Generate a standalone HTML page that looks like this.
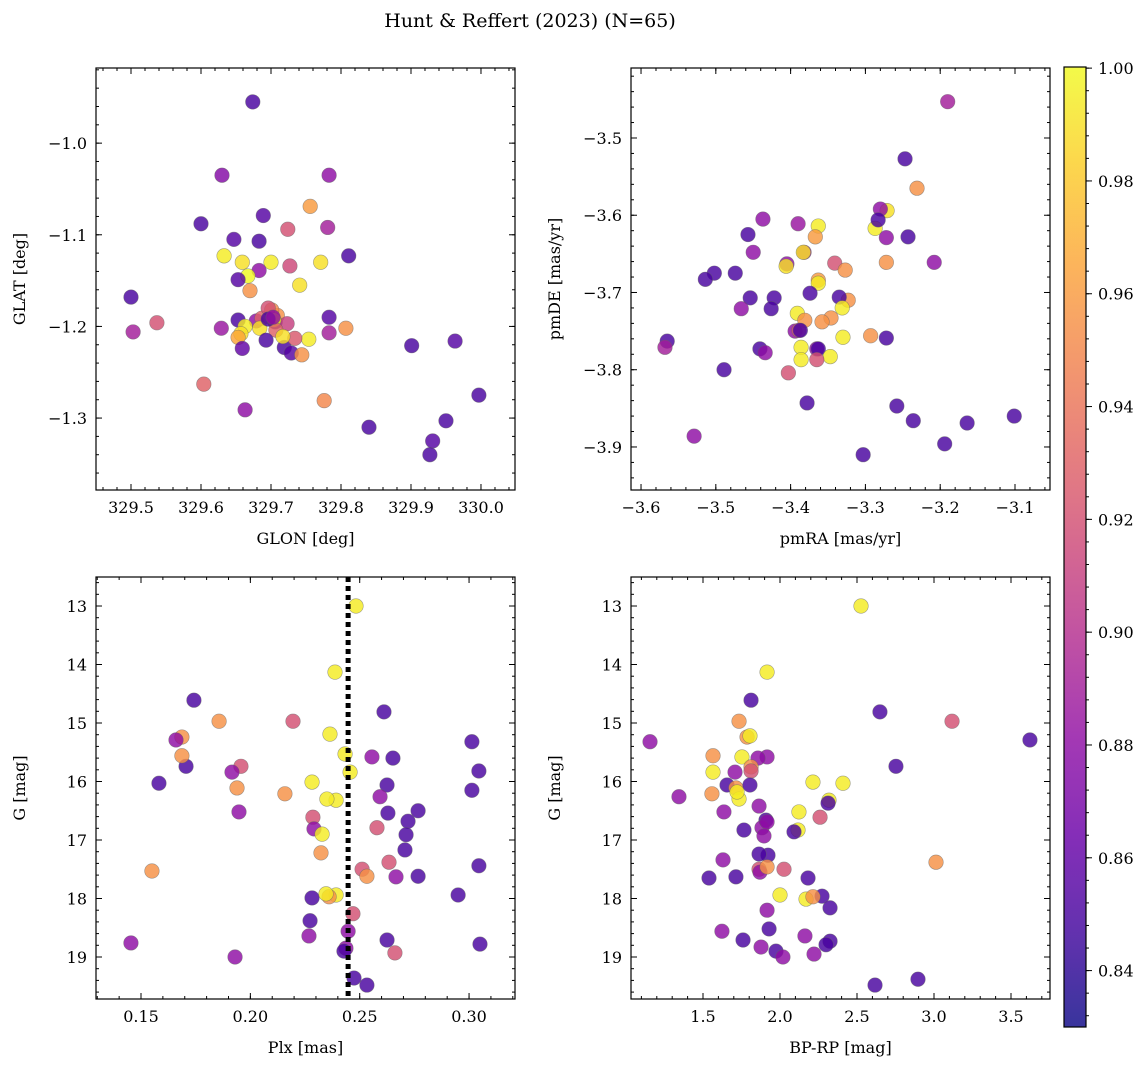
<!DOCTYPE html>
<html><head><meta charset="utf-8"><style>
html,body{margin:0;padding:0;background:#fff;}
svg{display:block;font-family:"DejaVu Serif","Liberation Serif",serif;}
</style></head><body>
<svg id="fig" width="1148" height="1067" viewBox="0 0 1148 1067">
<text x="530" y="27" font-size="19" text-anchor="middle">Hunt &amp; Reffert (2023) (N=65)</text>
</svg>
<script>
// ---- Panel 1 data: GLON / GLAT ----
const glon=[329.674,329.630,329.783,329.600,329.689,329.756,329.781,329.647,329.683,329.724,329.811,329.633,329.659,329.700,329.683,329.667,329.771,329.727,329.741,329.653,329.670,329.500,329.537,329.503,329.629,329.653,329.679,329.687,329.706,329.709,329.701,329.723,329.783,329.696,329.807,329.663,329.684,329.704,329.707,329.657,329.653,329.693,329.754,329.783,329.659,329.719,329.729,329.744,329.734,329.604,329.776,329.663,329.840,329.901,329.963,329.997,329.950,329.931,329.927,329.696,329.717,329.703];
const glat=[-0.955,-1.035,-1.035,-1.088,-1.079,-1.069,-1.092,-1.105,-1.107,-1.094,-1.123,-1.123,-1.130,-1.130,-1.139,-1.145,-1.130,-1.134,-1.155,-1.149,-1.161,-1.168,-1.196,-1.206,-1.202,-1.193,-1.194,-1.191,-1.195,-1.188,-1.182,-1.197,-1.190,-1.180,-1.202,-1.200,-1.202,-1.193,-1.204,-1.208,-1.212,-1.215,-1.214,-1.207,-1.224,-1.223,-1.229,-1.231,-1.213,-1.263,-1.281,-1.291,-1.310,-1.221,-1.216,-1.275,-1.303,-1.325,-1.340,-1.192,-1.211,-1.190];
const prob1=[0.85,0.875,0.88,0.85,0.855,0.96,0.89,0.855,0.85,0.92,0.85,0.995,0.99,0.995,0.88,1.0,0.99,0.915,0.99,0.855,0.955,0.85,0.92,0.89,0.885,0.85,0.88,0.93,0.85,0.955,0.95,0.91,0.855,0.92,0.955,0.995,0.99,0.995,0.93,0.99,0.965,0.85,0.995,0.89,0.86,0.85,0.855,0.955,0.925,0.93,0.95,0.88,0.85,0.85,0.855,0.85,0.85,0.855,0.85,0.85,0.99,0.88];
// ---- Panel 2 data: pmRA / pmDE ----
const pmra=[-3.190,-3.247,-3.231,-3.271,-3.280,-3.287,-3.283,-3.243,-3.437,-3.390,-3.363,-3.272,-3.457,-3.367,-3.382,-3.383,-3.450,-3.474,-3.502,-3.514,-3.405,-3.341,-3.272,-3.327,-3.363,-3.363,-3.208,-3.406,-3.323,-3.374,-3.335,-3.454,-3.422,-3.466,-3.426,-3.391,-3.346,-3.358,-3.381,-3.394,-3.389,-3.387,-3.331,-3.293,-3.272,-3.565,-3.568,-3.330,-3.386,-3.365,-3.363,-3.441,-3.434,-3.386,-3.347,-3.365,-3.489,-3.403,-3.378,-3.258,-3.236,-3.164,-3.101,-3.194,-3.303,-3.529];
const pmde=[-3.453,-3.527,-3.565,-3.594,-3.592,-3.617,-3.606,-3.628,-3.605,-3.611,-3.614,-3.629,-3.625,-3.628,-3.648,-3.648,-3.648,-3.675,-3.675,-3.683,-3.663,-3.662,-3.661,-3.671,-3.684,-3.688,-3.661,-3.666,-3.710,-3.701,-3.706,-3.707,-3.707,-3.721,-3.721,-3.727,-3.733,-3.738,-3.736,-3.750,-3.749,-3.749,-3.720,-3.756,-3.759,-3.763,-3.771,-3.758,-3.771,-3.773,-3.773,-3.773,-3.778,-3.787,-3.783,-3.787,-3.800,-3.804,-3.843,-3.847,-3.866,-3.869,-3.860,-3.896,-3.910,-3.886];
const prob2=[0.89,0.85,0.955,0.99,0.88,0.995,0.85,0.85,0.88,0.885,0.995,0.88,0.85,0.96,0.89,0.99,0.88,0.85,0.85,0.85,0.88,0.92,0.955,0.955,0.96,0.995,0.88,0.99,0.955,0.85,0.85,0.85,0.85,0.88,0.85,0.995,0.955,0.955,0.955,0.88,0.92,0.85,0.995,0.955,0.85,0.85,0.89,0.995,0.995,0.88,0.85,0.85,0.88,0.995,0.995,0.92,0.85,0.92,0.85,0.85,0.85,0.85,0.85,0.85,0.85,0.88];
// ---- Panel 3 data: Plx / G ----
const plx=[0.2483,0.2387,0.1742,0.1857,0.2195,0.2611,0.1687,0.1660,0.2364,0.1706,0.1687,0.2433,0.2556,0.2652,0.3013,0.2456,0.1957,0.1916,0.1582,0.2282,0.1939,0.2625,0.3045,0.2593,0.2392,0.2350,0.2158,0.2629,0.2767,0.3013,0.1948,0.2286,0.2721,0.2579,0.2291,0.2328,0.2712,0.2323,0.2634,0.2707,0.2511,0.1550,0.2666,0.2767,0.2533,0.3045,0.2950,0.2282,0.2392,0.2360,0.2346,0.2469,0.2273,0.2447,0.2625,0.2268,0.1454,0.2437,0.3050,0.1930,0.2661,0.2474,0.2533,0.2428];
const gmag3=[13.00,14.13,14.61,14.97,14.97,14.81,15.24,15.29,15.19,15.74,15.56,15.53,15.58,15.60,15.32,15.84,15.74,15.84,16.03,16.01,16.11,16.06,15.82,16.26,16.32,16.30,16.21,16.54,16.50,16.15,16.52,16.61,16.68,16.79,16.81,16.90,16.91,17.22,17.38,17.17,17.50,17.53,17.63,17.62,17.62,17.44,17.94,17.99,17.94,17.97,17.92,18.26,18.38,18.56,18.71,18.64,18.76,18.85,18.78,19.00,18.93,19.36,19.48,18.90];
const prob3=[0.995,0.995,0.85,0.955,0.92,0.85,0.955,0.88,0.995,0.85,0.955,0.995,0.88,0.85,0.85,0.995,0.92,0.88,0.85,0.995,0.955,0.85,0.85,0.88,0.995,0.995,0.955,0.85,0.85,0.85,0.88,0.92,0.85,0.92,0.88,0.995,0.85,0.955,0.92,0.85,0.92,0.955,0.88,0.85,0.955,0.85,0.85,0.85,0.995,0.955,0.995,0.92,0.85,0.88,0.85,0.88,0.88,0.88,0.85,0.88,0.92,0.85,0.85,0.85];
// ---- Panel 4 data: BP-RP / G ----
const bprp=[2.526,1.916,1.812,2.649,1.734,3.117,1.786,1.805,3.623,1.156,1.565,1.753,1.916,1.857,2.753,1.565,1.708,1.812,1.812,1.344,1.656,1.714,1.734,1.558,1.805,1.721,2.318,2.312,2.214,1.864,2.123,2.409,1.909,1.636,2.260,1.883,2.117,1.766,2.091,1.916,1.896,1.922,1.864,1.630,1.864,1.714,1.870,1.916,2.182,1.539,2.026,3.013,2.273,2.000,2.169,2.214,1.916,2.325,1.929,1.623,1.760,2.325,2.299,1.877,2.162,2.221,1.974,2.019,2.896,2.617];
const gmag4=[13.00,14.13,14.61,14.81,14.97,14.97,15.24,15.22,15.29,15.32,15.56,15.58,15.58,15.60,15.74,15.84,15.84,15.75,15.82,16.26,16.06,16.11,16.30,16.21,16.06,16.18,16.32,16.37,16.01,16.42,16.52,16.03,16.66,16.52,16.61,16.79,16.83,16.83,16.86,16.69,16.93,17.26,17.24,17.34,17.50,17.63,17.55,17.46,17.65,17.65,17.50,17.38,17.96,17.94,18.01,17.97,18.20,18.16,18.52,18.56,18.71,18.73,18.79,18.83,18.64,18.95,18.90,19.00,19.38,19.48];
const prob4=[0.995,0.995,0.85,0.85,0.955,0.92,0.955,0.995,0.85,0.88,0.955,0.995,0.88,0.88,0.85,0.995,0.88,0.955,0.92,0.88,0.85,0.955,0.995,0.955,0.85,0.995,0.995,0.85,0.995,0.88,0.995,0.995,0.85,0.88,0.92,0.88,0.995,0.85,0.85,0.88,0.88,0.85,0.85,0.88,0.92,0.85,0.88,0.955,0.85,0.85,0.92,0.955,0.85,0.995,0.995,0.955,0.88,0.85,0.85,0.88,0.85,0.85,0.85,0.88,0.88,0.88,0.85,0.88,0.85,0.85];
// ---- Reference line & colorbar ----
const plxLine=[0.2447];
const cbTicks=[0.84,0.86,0.88,0.90,0.92,0.94,0.96,0.98,1.00];
const vmin=0.830, vmax=1.0002;

const NS="http://www.w3.org/2000/svg";
const fig=document.getElementById('fig');
function el(tag,attrs,parent){const e=document.createElementNS(NS,tag);for(const k in attrs)e.setAttribute(k,attrs[k]);(parent||fig).appendChild(e);return e;}
const stops=["#0d0887","#41049d","#6a00a8","#8f0da4","#b12a90","#cc4778","#e16462","#f2844b","#fca636","#fcce25","#f0f921"];
function hex(h){return [1,3,5].map(i=>parseInt(h.substr(i,2),16));}
function plasma(t){t=Math.max(0,Math.min(1,t));const f=t*10,i=Math.min(9,Math.floor(f)),r=f-i;const a=hex(stops[i]),b=hex(stops[i+1]);return 'rgb('+a.map((v,k)=>Math.round(v+(b[k]-v)*r)).join(',')+')';}
function cmap(v){return plasma((v-vmin)/(vmax-vmin));}

function panel(o){
  const g=el('g',{});
  
  
  const X=v=>o.x0+(v-o.xd[0])/(o.xd[1]-o.xd[0])*(o.x1-o.x0);
  const Y=v=>o.invert? o.y0+(v-o.yd[0])/(o.yd[1]-o.yd[0])*(o.y1-o.y0) : o.y1-(v-o.yd[0])/(o.yd[1]-o.yd[0])*(o.y1-o.y0);
  function ticks(dom,step){const out=[];const s=Math.ceil(dom[0]/step-1e-6),e=Math.floor(dom[1]/step+1e-6);for(let i=s;i<=e;i++)out.push(i*step);return out;}
  const tg=el('g',{stroke:'#000','stroke-width':1},g);
  
  
  const lo=Math.min(o.yd[0],o.yd[1]),hi=Math.max(o.yd[0],o.yd[1]);
  [[o.xmin,3],[o.xmaj,6]].forEach(([st,len])=>ticks(o.xd,st).forEach(v=>{const x=X(v);el('line',{x1:x,x2:x,y1:o.y1,y2:o.y1-len},tg);el('line',{x1:x,x2:x,y1:o.y0,y2:o.y0+len},tg);}));
  [[o.ymin,3],[o.ymaj,6]].forEach(([st,len])=>ticks([lo,hi],st).forEach(v=>{const y=Y(v);el('line',{y1:y,y2:y,x1:o.x0,x2:o.x0+len},tg);el('line',{y1:y,y2:y,x1:o.x1,x2:o.x1-len},tg);}));
  ticks(o.xd,o.xmaj).forEach(v=>{const t=el('text',{x:X(v),y:o.y1+23,'font-size':16,'text-anchor':'middle'},g);t.textContent=o.xf(v);
    
    });
  ticks([lo,hi],o.ymaj).forEach(v=>{const t=el('text',{x:o.x0-9,y:Y(v)+6,'font-size':16,'text-anchor':'end'},g);t.textContent=o.yf(v);
    
    });
  const pg=el('g',{},g);
  
  
  o.xs.forEach((v,i)=>{const c=el('circle',{cx:X(v),cy:Y(o.ys[i]),r:7.3,fill:cmap(o.c[i]),'fill-opacity':0.82,stroke:'#666','stroke-opacity':0.6,'stroke-width':0.6},pg);
    
    });
  if(o.vline){o.vline.forEach(v=>{const l=el('line',{x1:X(v),x2:X(v),y1:o.y0,y2:o.y1,stroke:'#000','stroke-width':5,'stroke-dasharray':'5,4'},g);
    
    });}
  const fr=el('rect',{x:o.x0,y:o.y0,width:o.x1-o.x0,height:o.y1-o.y0,fill:'none',stroke:'#000','stroke-width':1.2},g);
  
  
  const xl=el('text',{x:(o.x0+o.x1)/2,y:o.y1+54,'font-size':16,'text-anchor':'middle'},g);xl.textContent=o.xl;
  
  
  const yx=o.x0-71,yc=(o.y0+o.y1)/2;
  const yl=el('text',{x:yx,y:yc,'font-size':16,'text-anchor':'middle',transform:'rotate(-90 '+yx+' '+yc+')'},g);yl.textContent=o.yl;
  
  
}
const m=s=>(s.charAt(0)==='-'?'\u2212'+s.slice(1):s);
panel({name:'glon-glat-panel',x0:96,x1:515,y0:68,y1:490,xd:[329.45,330.0486],yd:[-1.3785,-0.918],xmaj:0.1,xmin:0.02,ymaj:0.1,ymin:0.02,xf:v=>v.toFixed(1),yf:v=>m(v.toFixed(1)),xs:glon,ys:glat,c:prob1,xl:'GLON [deg]',yl:'GLAT [deg]'});
panel({name:'proper-motion-panel',x0:631,x1:1050,y0:68,y1:490,xd:[-3.6134,-3.0532],yd:[-3.9557,-3.4094],xmaj:0.1,xmin:0.02,ymaj:0.1,ymin:0.02,xf:v=>m(v.toFixed(1)),yf:v=>m(v.toFixed(1)),xs:pmra,ys:pmde,c:prob2,xl:'pmRA [mas/yr]',yl:'pmDE [mas/yr]'});
panel({name:'plx-g-panel',x0:96,x1:515,y0:577,y1:999,invert:true,xd:[0.12942,0.32101],yd:[12.504,19.718],xmaj:0.05,xmin:0.01,ymaj:1,ymin:0.2,xf:v=>v.toFixed(2),yf:v=>String(Math.round(v)),xs:plx,ys:gmag3,c:prob3,xl:'Plx [mas]',yl:'G [mag]',vline:plxLine});
panel({name:'cmd-panel',x0:631,x1:1050,y0:577,y1:999,invert:true,xd:[1.0325,3.7532],yd:[12.504,19.718],xmaj:0.5,xmin:0.1,ymaj:1,ymin:0.2,xf:v=>v.toFixed(1),yf:v=>String(Math.round(v)),xs:bprp,ys:gmag4,c:prob4,xl:'BP-RP [mag]',yl:'G [mag]'});

const cb=el('g',{});


const cx0=1064,cx1=1086,cy0=67,cy1=1027;
const defs=el('defs',{},cb);const lg=el('linearGradient',{id:'cbg',x1:0,y1:1,x2:0,y2:0},defs);
for(let i=0;i<=20;i++){el('stop',{offset:i/20,'stop-color':plasma(i/20)},lg);}
el('rect',{x:cx0,y:cy0,width:cx1-cx0,height:cy1-cy0,fill:'url(#cbg)','fill-opacity':0.82},cb);
const CY=v=>cy1-(v-vmin)/(vmax-vmin)*(cy1-cy0);
for(let v=0.832;v<=1.0001;v+=0.004){const y=CY(v);el('line',{x1:cx1,x2:cx1+3,y1:y,y2:y,stroke:'#000'},cb);}
cbTicks.forEach(v=>{const y=CY(v);el('line',{x1:cx1,x2:cx1+6,y1:y,y2:y,stroke:'#000'},cb);
  const t=el('text',{x:cx1+12,y:y+6,'font-size':16},cb);t.textContent=v.toFixed(2);
  
  });
el('rect',{x:cx0,y:cy0,width:cx1-cx0,height:cy1-cy0,fill:'none',stroke:'#000','stroke-width':1.2},cb);
</script>
</body></html>
